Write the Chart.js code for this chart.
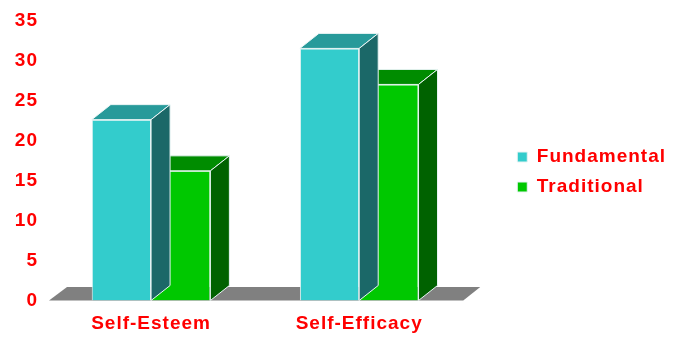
<!DOCTYPE html>
<html>
<head>
<meta charset="utf-8">
<script src="https://cdn.jsdelivr.net/npm/chart.js@4/dist/chart.umd.min.js"></script>
<style>
  html, body { margin: 0; padding: 0; background: #fff; }
  #wrap { width: 683px; height: 337px; }
</style>
</head>
<body>
<div id="wrap"><canvas id="chart"></canvas></div>
<script>
const categories = ['Self-Esteem', 'Self-Efficacy'];
const seriesNames = ['Fundamental', 'Traditional'];
const fundamental = [22.6, 31.5];
const traditional = [16.2, 27.0];
const yTicks = [0, 5, 10, 15, 20, 25, 30, 35];

// front / top / side shades for each series
const frontColors = ['#33CCCC', '#00C800'];
const topColors = ['#279A9A', '#008C00'];
const sideColors = ['#1B6868', '#006200'];

const depthX = 19, depthY = -15;

function poly(ctx, pts, fill) {
    ctx.beginPath();
    ctx.moveTo(pts[0][0], pts[0][1]);
    for (let i = 1; i < pts.length; i++) ctx.lineTo(pts[i][0], pts[i][1]);
    ctx.closePath();
    ctx.fillStyle = fill;
    ctx.fill();
    ctx.stroke();
}

// wider letter spacing for all the labels
const spacing = {
    id: 'spacing',
    beforeUpdate(chart) { chart.ctx.letterSpacing = '1px'; },
    beforeDraw(chart) { chart.ctx.letterSpacing = '1px'; }
};

// grey floor plus top and side faces of each bar
const bar3d = {
    id: 'bar3d',
    beforeDatasetsDraw(chart) {
        const ctx = chart.ctx;
        const { left, right } = chart.chartArea;
        const y0 = chart.scales.y.getPixelForValue(0);
        ctx.save();
        ctx.strokeStyle = 'rgba(0,0,0,0)';
        poly(ctx, [[left + 2, y0], [right, y0], [right + 17, y0 - 13.5], [left + 20, y0 - 13.5]], '#808080');
        ctx.restore();
    },
    afterDatasetDraw(chart, args) {
        const ctx = chart.ctx;
        const i = args.index;
        ctx.save();
        ctx.strokeStyle = '#E8F4F4';
        ctx.lineWidth = 1;
        args.meta.data.forEach(bar => {
            const { x, y, width, base } = bar.getProps(['x', 'y', 'width', 'base'], true);
            const l = x - width / 2, r = x + width / 2;
            poly(ctx, [[l, y], [r, y], [r + depthX, y + depthY], [l + depthX, y + depthY]], topColors[i]);
            poly(ctx, [[r, y], [r + depthX, y + depthY], [r + depthX, base + depthY], [r, base]], sideColors[i]);
        });
        ctx.restore();
    }
};

const labelFont = { family: '"Liberation Sans", Arial, sans-serif', size: 19, weight: 'bold' };

new Chart(document.getElementById('chart'), {
    type: 'bar',
    data: {
        labels: categories,
        datasets: [
            { label: seriesNames[0], data: fundamental, backgroundColor: frontColors[0], borderColor: '#E8F4F4', borderWidth: 1 },
            { label: seriesNames[1], data: traditional, backgroundColor: frontColors[1], borderColor: '#E8F4F4', borderWidth: 1 }
        ]
    },
    options: {
        responsive: true,
        maintainAspectRatio: false,
        animation: false,
        layout: { padding: { top: 7, right: 7, bottom: 0, left: 0 } },
        datasets: { bar: { categoryPercentage: 0.57, barPercentage: 1 } },
        scales: {
            x: {
                afterFit(scale) { scale.height = 36.5; },
                grid: { display: false, drawTicks: false },
                border: { display: false },
                ticks: { color: '#FF0000', font: labelFont, padding: 12 }
            },
            y: {
                min: 0,
                max: 35,
                afterBuildTicks(scale) { scale.ticks = yTicks.map(v => ({ value: v })); },
                afterFit(scale) { scale.width = 47; },
                grid: { display: false, drawTicks: false },
                border: { display: false },
                ticks: { color: '#FF0000', font: labelFont, padding: 9 }
            },
            gap: {
                type: 'linear',
                position: 'right',
                grid: { display: false, drawTicks: false },
                border: { display: false },
                ticks: { display: false },
                afterFit(scale) { scale.width = 43; }
            }
        },
        plugins: {
            legend: {
                position: 'right',
                maxWidth: 200,
                labels: {
                    color: '#FF0000',
                    font: labelFont,
                    boxWidth: 10,
                    boxHeight: 10,
                    padding: 11
                }
            },
            tooltip: { enabled: false }
        }
    },
    plugins: [spacing, bar3d]
});
</script>
</body>
</html>
